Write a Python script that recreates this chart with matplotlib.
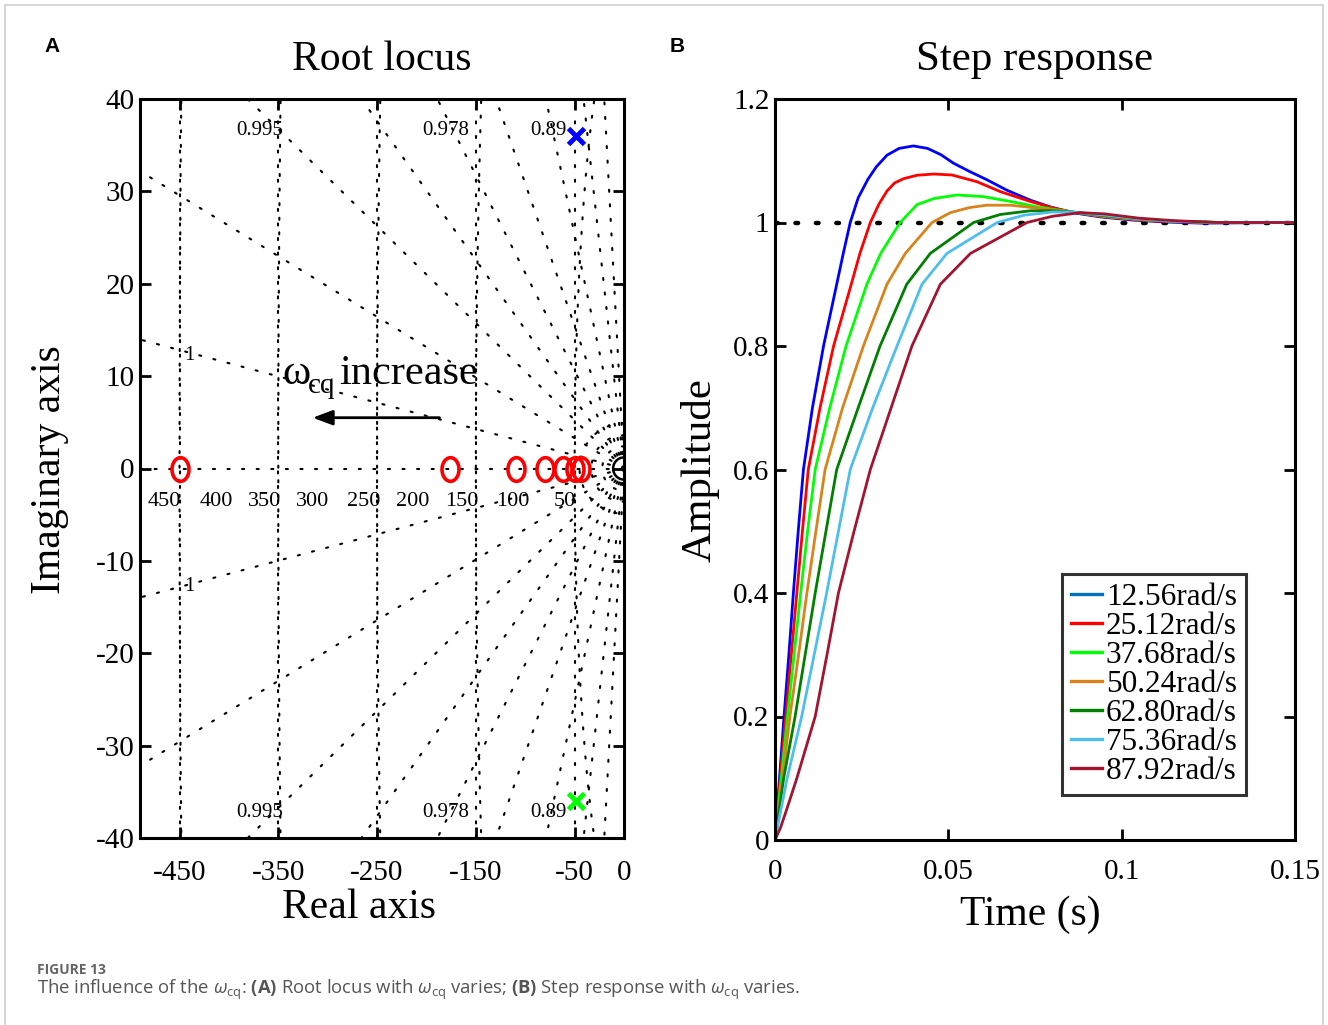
import numpy as np
import matplotlib.pyplot as plt
from matplotlib.lines import Line2D
from matplotlib.patches import Rectangle

plt.rcParams['font.family'] = ['Liberation Serif', 'DejaVu Serif']
plt.rcParams['axes.unicode_minus'] = False
plt.rcParams['mathtext.fontset'] = 'custom'
plt.rcParams['mathtext.rm'] = 'Open Sans'
plt.rcParams['mathtext.it'] = 'Open Sans:italic'
plt.rcParams['mathtext.bf'] = 'Open Sans:bold'

# ---- root locus (A) ----
zeros_re = [-450, -176, -109, -80, -62, -50, -44]
pole_re = -48.6
pole_im = 36.0
zeta_tan = [0.0285, 0.0657, 0.105, 0.1505, 0.2117, 0.3085, 0.506, 0.977, 2.0]
wn_circles = [50, 150, 250, 350, 450]
near_arcs_x = [11, 22, 33, 45]
near_arcs_y = [1.2, 2.4, 3.6, 4.9]
zeta_labels = ['0.995', '0.978', '0.89']
zeta_label_x = [-369, -181, -77]
wn_labels = ['450', '400', '350', '300', '250', '200', '150', '100', '50']
wn_label_x = [-465, -413, -364, -315, -264, -214, -164, -113, -60]

# ---- step response (B) ----
names = ['12.56rad/s', '25.12rad/s', '37.68rad/s', '50.24rad/s',
         '62.80rad/s', '75.36rad/s', '87.92rad/s']
colors = ['#0000ff', '#ff0000', '#00ff00', '#d9841a', '#007f00', '#4dbeee', '#a2142f']
legend_colors = ['#0072bd', '#ff0000', '#00ff00', '#d9841a', '#007f00', '#4dbeee', '#a2142f']

t1 = [0, 0.0013, 0.0026, 0.0040, 0.0053, 0.0067, 0.0082, 0.0108, 0.0140, 0.0178, 0.0197,
      0.0217, 0.0240, 0.0268, 0.0292, 0.0323, 0.0358, 0.0399, 0.0440, 0.0478, 0.0515,
      0.0560, 0.0612, 0.0670, 0.0737, 0.0795, 0.0857, 0.0940, 0.1030, 0.1120, 0.1230, 0.1500]
y1 = [0, 0.10, 0.20, 0.30, 0.40, 0.50, 0.60, 0.70, 0.80, 0.90, 0.95,
      1.00, 1.040, 1.070, 1.090, 1.109, 1.120, 1.124, 1.120, 1.110, 1.096,
      1.083, 1.069, 1.052, 1.036, 1.025, 1.016, 1.009, 1.004, 1.001, 0.999, 1.000]
t2 = [0, 0.0015, 0.0031, 0.0047, 0.0063, 0.0079, 0.0096, 0.0130, 0.0169, 0.0220, 0.0245,
      0.0275, 0.0300, 0.0323, 0.0345, 0.0371, 0.0410, 0.0458, 0.0510, 0.0583, 0.0650,
      0.0737, 0.0800, 0.0857, 0.0950, 0.1050, 0.1150, 0.1280, 0.1500]
y2 = [0, 0.10, 0.20, 0.30, 0.40, 0.50, 0.60, 0.70, 0.80, 0.90, 0.95,
      1.00, 1.030, 1.051, 1.064, 1.071, 1.0765, 1.0785, 1.077, 1.066, 1.050,
      1.034, 1.024, 1.017, 1.009, 1.004, 1.001, 1.000, 1.000]
t3 = [0, 0.0018, 0.0036, 0.0055, 0.0074, 0.0094, 0.0116, 0.0158, 0.0205, 0.0265, 0.0305,
      0.0361, 0.0410, 0.0460, 0.0525, 0.0600, 0.0680, 0.0760, 0.0857, 0.0950, 0.1050,
      0.1150, 0.1280, 0.1500]
y3 = [0, 0.10, 0.20, 0.30, 0.40, 0.50, 0.60, 0.70, 0.80, 0.90, 0.95,
      1.00, 1.029, 1.039, 1.0445, 1.042, 1.034, 1.025, 1.017, 1.010, 1.005,
      1.002, 1.000, 1.000]
t4 = [0, 0.0022, 0.0043, 0.0068, 0.0092, 0.0118, 0.01445, 0.0195, 0.0255, 0.0323, 0.0376,
      0.0453, 0.0506, 0.0560, 0.0610, 0.0680, 0.0760, 0.0857, 0.0950, 0.1050, 0.1150,
      0.1280, 0.1500]
y4 = [0, 0.10, 0.20, 0.30, 0.40, 0.50, 0.60, 0.70, 0.80, 0.90, 0.95,
      1.00, 1.016, 1.024, 1.028, 1.028, 1.023, 1.017, 1.010, 1.005, 1.002,
      1.000, 1.000]
t5 = [0, 0.0025, 0.0058, 0.0087, 0.0116, 0.0147, 0.0178, 0.0240, 0.0303, 0.0380, 0.0448,
      0.0573, 0.0650, 0.0737, 0.0800, 0.0857, 0.0950, 0.1050, 0.1150, 0.1280, 0.1500]
y5 = [0, 0.10, 0.20, 0.30, 0.40, 0.50, 0.60, 0.70, 0.80, 0.90, 0.95,
      1.00, 1.013, 1.019, 1.019, 1.017, 1.011, 1.006, 1.002, 1.000, 1.000]
t6 = [0, 0.0035, 0.0077, 0.0113, 0.0149, 0.0183, 0.0217, 0.0282, 0.0352, 0.0424, 0.0496,
      0.0641, 0.0720, 0.0800, 0.0857, 0.0950, 0.1050, 0.1150, 0.1280, 0.1500]
y6 = [0, 0.10, 0.20, 0.30, 0.40, 0.50, 0.60, 0.70, 0.80, 0.90, 0.95,
      1.00, 1.012, 1.017, 1.017, 1.012, 1.006, 1.002, 1.000, 1.000]
t7 = [0, 0.0016, 0.0034, 0.0063, 0.0116, 0.0150, 0.0183, 0.0228, 0.0275, 0.0335, 0.0395,
      0.0477, 0.0564, 0.0727, 0.0800, 0.0880, 0.0950, 0.1050, 0.1150, 0.1280, 0.1500]
y7 = [0, 0.02, 0.05, 0.10, 0.20, 0.30, 0.40, 0.50, 0.60, 0.70, 0.80,
      0.90, 0.95, 1.00, 1.010, 1.016, 1.014, 1.007, 1.003, 1.000, 1.000]
times = [t1, t2, t3, t4, t5, t6, t7]
amps = [y1, y2, y3, y4, y5, y6, y7]

W, H = 1328, 1025
fig = plt.figure(figsize=(W / 100, H / 100), dpi=100)

def fx(p):
    return p / W

def fy(p):
    return 1 - p / H

dot = dict(color='black', linestyle=(0, (1, 6)), linewidth=1.5, dash_capstyle='round')

# ===================== A: root locus =====================
ax1 = fig.add_axes([fx(140), fy(838), fx(624 - 140), (838 - 99) / H])
ax1.set_xlim(-490, 0)
ax1.set_ylim(-40, 40)

for tn in zeta_tan:
    ax1.plot([0, -600], [0, 600 * tn], **dot)
    ax1.plot([0, -600], [0, -600 * tn], **dot)
th = np.linspace(np.pi / 2, 3 * np.pi / 2, 400)
for r in wn_circles:
    ax1.plot(r * np.cos(th), r * np.sin(th), **dot)
    ax1.axvline(-r, **dot)
for i, (a, b) in enumerate(zip(near_arcs_x, near_arcs_y)):
    if i == 0:
        ax1.plot(a * np.cos(th), b * np.sin(th), color='black', lw=1.8)
    else:
        ax1.plot(a * np.cos(th), b * np.sin(th), **dot)
ax1.axhline(0, **dot)

for lab, x in zip(zeta_labels, zeta_label_x):
    ax1.text(x, 36.6, lab, fontsize=15, ha='center', va='center')
    ax1.text(x, -37.2, lab, fontsize=15, ha='center', va='center')
ax1.text(-440, 12.2, '1', fontsize=15, ha='center', va='center')
ax1.text(-440, -12.8, '1', fontsize=15, ha='center', va='center')
for lab, x in zip(wn_labels, wn_label_x):
    ax1.text(x, -3.6, lab, fontsize=16, ha='center', va='center')

ang = np.linspace(0, 2 * np.pi, 60)
oval = list(zip(0.72 * np.cos(ang), np.sin(ang)))
ax1.plot(zeros_re, np.zeros(len(zeros_re)), linestyle='none', marker=oval, ms=17,
         mfc='none', mec='#ff0000', mew=2.6)
ax1.plot(pole_re, pole_im, 'x', ms=11, mec='#0000ff', mew=3.5)
ax1.plot(pole_re, -pole_im, 'x', ms=11, mec='#00ff00', mew=3.5)

ax1.text(-346, 9.1, 'ω', fontsize=31, va='baseline', ha='left')
ax1.text(-320, 8.2, 'cq', fontsize=21, va='baseline', ha='left')
ax1.text(-288, 9.1, 'increase', fontsize=30.5, va='baseline', ha='left')
ax1.annotate('', xy=(-318, 5.5), xytext=(-184, 5.5),
             arrowprops=dict(arrowstyle='-|>,head_length=1.2,head_width=0.45',
                             color='black', lw=2))

ax1.set_xticks([-450, -350, -250, -150, -50, 0])
ax1.set_xticklabels(['-450', '-350', '-250', '-150', '-50', '0'])
ax1.set_yticks([-40, -30, -20, -10, 0, 10, 20, 30, 40])
ax1.set_yticklabels(['-40', '-30', '-20', '-10', '0', '10', '20', '30', '40'])
ax1.tick_params(direction='in', length=8, width=2, top=True, right=True, labelsize=21)
ax1.tick_params(axis='x', pad=16)
ax1.tick_params(axis='y', pad=4)
for s in ax1.spines.values():
    s.set_linewidth(2.2)

ax1.text(0.5, (838 - 60) / 739, 'Root locus', transform=ax1.transAxes,
         fontsize=30, ha='center', va='center')
ax1.set_xlabel('Real axis', fontsize=30)
ax1.xaxis.label.set_va('center')
ax1.xaxis.set_label_coords((359 - 140) / 484, -(908 - 838) / 739)
ax1.set_ylabel('Imaginary axis', fontsize=30)
ax1.yaxis.label.set_va('center')
ax1.yaxis.set_label_coords((50 - 140) / 484, 0.498)

# ===================== B: step response =====================
ax2 = fig.add_axes([fx(775), fy(840), fx(1295 - 775), (840 - 99) / H])
ax2.set_xlim(0, 0.15)
ax2.set_ylim(0, 1.2)
ax2.plot([0, 0.15], [1, 1], color='black', lw=3.2, linestyle=(0, (0.6, 4)),
         dash_capstyle='round', zorder=1)
for tt, yy, c in zip(times, amps, colors):
    ax2.plot(tt, yy, color=c, lw=2.0, zorder=2, solid_joinstyle='round')

handles = [Line2D([0], [0], color=c, lw=2.4) for c in legend_colors]
leg = ax2.legend(handles, names, loc='lower left', bbox_to_anchor=(0.552, 0.061),
                 fontsize=22.5, frameon=True, fancybox=False, handlelength=1.0,
                 handletextpad=0.12, labelspacing=0.0, borderpad=0.28,
                 borderaxespad=0)
leg.get_frame().set_edgecolor('black')
leg.get_frame().set_linewidth(2.2)

ax2.set_xticks([0, 0.05, 0.1, 0.15])
ax2.set_xticklabels(['0', '0.05', '0.1', '0.15'])
ax2.set_yticks([0, 0.2, 0.4, 0.6, 0.8, 1.0, 1.2])
ax2.set_yticklabels(['0', '0.2', '0.4', '0.6', '0.8', '1', '1.2'])
ax2.tick_params(direction='in', length=8, width=2, top=True, right=True, labelsize=21)
ax2.tick_params(axis='x', pad=14)
ax2.tick_params(axis='y', pad=4)
for s in ax2.spines.values():
    s.set_linewidth(2.2)

ax2.text(0.5, (840 - 60) / 741, 'Step response', transform=ax2.transAxes,
         fontsize=31, ha='center', va='center')
ax2.set_xlabel('Time (s)', fontsize=30)
ax2.xaxis.label.set_va('center')
ax2.xaxis.set_label_coords((1030 - 775) / 520, -(915 - 840) / 741)
ax2.set_ylabel('Amplitude', fontsize=31)
ax2.yaxis.label.set_va('center')
ax2.yaxis.set_label_coords((700 - 775) / 520, 0.499)

# panel letters, caption, frame
fig.text(fx(52), fy(47), 'A', fontsize=15, fontweight='bold', family='Liberation Sans',
         ha='center', va='center')
fig.text(fx(677), fy(47), 'B', fontsize=15, fontweight='bold', family='Liberation Sans',
         ha='center', va='center')
fig.text(fx(37), fy(970), 'FIGURE 13', fontsize=10, fontweight='bold', family='Open Sans',
         color='#666666', ha='left', va='center')
fig.text(fx(37), fy(990),
         r'The influence of the $\mathit{\omega}_{\mathrm{cq}}$: $\mathbf{(A)}$ Root locus with '
         r'$\mathit{\omega}_{\mathrm{cq}}$ varies; $\mathbf{(B)}$ Step response with '
         r'$\mathit{\omega}_{\mathrm{cq}}$ varies.',
         fontsize=13.3, family='Open Sans', color='#555555', ha='left', va='center')
fig.patches.append(Rectangle((fx(5), fy(1040)), fx(1318), (1040 - 5) / H,
                             transform=fig.transFigure, fill=False,
                             edgecolor='#d0d0d0', lw=1.2))

fig.savefig('out.png', dpi=100)
